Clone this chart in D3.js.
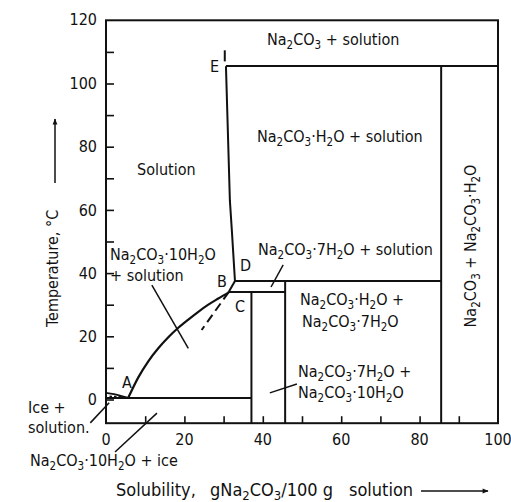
<!DOCTYPE html>
<html><head><meta charset="utf-8">
<script src="https://cdn.jsdelivr.net/npm/d3@7"></script>
<style>
body{margin:0;background:#fff;}
text{font-family:"DejaVu Sans Condensed","DejaVu Sans",sans-serif;font-stretch:condensed;fill:#111;}
</style></head><body>
<svg id="c" width="511" height="502"></svg>
<script>
// ---- data (composition wt% Na2CO3, temperature °C) ----
const xTickValues = [0,10,20,30,40,50,60,70,80,90,100];
const xTickLabels = [0,20,40,60,80,100];
const yTickValues = [0,10,20,30,40,50,60,70,80,90,100,110];
const yTickLabels = [0,20,40,60,80,100,120];
const iceCurve = [[0,2.1],[2,1.7],[4,1.1],[5.7,0.5]];
const iceDash = [[0.9,1.0],[4.6,0.8]];
const decaCurve = [[5.7,0.6],[8.24,7.0],[10.79,12.1],[13.34,16.2],[15.89,19.7],[18.44,22.7],[21.0,25.3],[23.55,27.75],[26.1,30.0],[28.65,31.95],[31.3,33.9]];
const heptaMetastable = [[31.3,34],[24.4,22]];
const lineBD = [[31.3,34],[32.9,37.5]];
const lineDE = [[32.9,37.5],[32.1,53.6],[31.6,63],[30.6,105.5]];
const lineE = [[30.6,105.5],[100,105.5]];
const boilTick = [[30.3,107],[30.3,110.5]];
const monoVert = [[85.5,105.5],[85.5,-7.5]];
const lineD = [[32.9,37.5],[85.5,37.5]];
const lineBC = [[31.3,34],[45.7,34]];
const heptaVert = [[45.7,37.5],[45.7,-7.5]];
const decaVert = [[37.1,34],[37.1,-7.5]];
const eutectic = [[0,0.5],[37.1,0.5]];
const leaders = [
  [[11.7,36.2],[21.0,16.2]],
  [[45.2,42.6],[42.1,35.6]],
  [[41.8,2.1],[48.7,4.9]],
  [[-4,-7.4],[0.8,-1]],
  [[2.3,-16.6],[13.0,-4.3]]
];
const phaseLabels = [
  {t:"Na_2CO_3 + solution", x:267, y:45},
  {t:"Na_2CO_3·H_2O + solution", x:257, y:142},
  {t:"Solution", x:137, y:175},
  {t:"Na_2CO_3·10H_2O", x:110, y:260},
  {t:"+ solution", x:110, y:281},
  {t:"Na_2CO_3·7H_2O + solution", x:258, y:255},
  {t:"Na_2CO_3·H_2O +", x:300, y:305},
  {t:"Na_2CO_3·7H_2O", x:302, y:327},
  {t:"Na_2CO_3·7H_2O +", x:298, y:377},
  {t:"Na_2CO_3·10H_2O", x:298, y:398},
  {t:"Ice +", x:28, y:413},
  {t:"solution.", x:28, y:433},
  {t:"Na_2CO_3·10H_2O + ice", x:30, y:466},
  {t:"E", x:210, y:72},
  {t:"D", x:240, y:271},
  {t:"B", x:217, y:287},
  {t:"C", x:235, y:312},
  {t:"A", x:122, y:388}
];
const xTitleParts = [
  {t:"Solubility,", x:116},
  {t:"gNa_2CO_3/100 g", x:210},
  {t:"solution", x:349}
];

// ---- chart ----
const svg = d3.select("#c");
const x = d3.scaleLinear().domain([0,100]).range([106,498]);
const y = d3.scaleLinear().domain([-7.5,120]).range([423.2,20.3]);
const line = d3.line().x(d=>x(d[0])).y(d=>y(d[1]));
const curve = d3.line().x(d=>x(d[0])).y(d=>y(d[1])).curve(d3.curveMonotoneX);

const defs = svg.append("defs");
defs.append("marker").attr("id","arr").attr("viewBox","0 0 10 10").attr("refX",9).attr("refY",5)
  .attr("markerWidth",11).attr("markerHeight",6).attr("orient","auto").attr("markerUnits","userSpaceOnUse")
  .append("path").attr("d","M0,1 L10,5 L0,9 Z").attr("fill","#111");

function subText(sel, str, size){
  const parts = str.split(/(_\d)/).filter(p=>p);
  let shifted = false;
  parts.forEach(p=>{
    if(p[0]==="_"){
      sel.append("tspan").attr("font-size",size*0.72).attr("dy",shifted?0:4).text(p[1]);
      shifted = true;
    } else {
      const ts = sel.append("tspan").text(p);
      if(shifted){ ts.attr("dy",-4); shifted=false; }
    }
  });
}

// frame
svg.append("rect").attr("x",x(0)).attr("y",y(120)).attr("width",x(100)-x(0)).attr("height",y(-7.5)-y(120))
  .attr("fill","none").attr("stroke","#111").attr("stroke-width",2);

// axes
const yAxis = d3.axisLeft(y).tickValues(yTickValues).tickSize(-8).tickPadding(9)
  .tickFormat(d=> yTickLabels.includes(d)?d:"");
const gy = svg.append("g").attr("transform",`translate(${x(0)},0)`).call(yAxis);
gy.select(".domain").remove();
gy.selectAll("line").attr("stroke","#111").attr("stroke-width",1.6);
gy.selectAll("text").attr("font-size",16).attr("font-family",null);
gy.append("text").attr("x",-9).attr("y",y(120)).attr("dy","0.32em").attr("text-anchor","end")
  .attr("font-size",16).attr("fill","#111").text(yTickLabels[yTickLabels.length-1]);

const xAxis = d3.axisBottom(x).tickValues(xTickValues.slice(1,-1)).tickSize(-7).tickFormat("");
const gx = svg.append("g").attr("transform",`translate(0,${y(-7.5)})`).call(xAxis);
gx.select(".domain").remove();
gx.selectAll("line").attr("stroke","#111").attr("stroke-width",1.6);
svg.append("g").selectAll("text").data(xTickLabels).join("text")
  .attr("x",d=>x(d)).attr("y",445).attr("text-anchor","middle").attr("font-size",16).text(d=>d);

// phase lines
const solid = [lineDE,lineE,monoVert,lineD,lineBC,lineBD,heptaVert,decaVert,eutectic,boilTick];
svg.append("g").selectAll("path").data(solid).join("path").attr("d",line)
  .attr("fill","none").attr("stroke","#111").attr("stroke-width",2);
svg.append("path").attr("d",curve(decaCurve)).attr("fill","none").attr("stroke","#111").attr("stroke-width",2.2);
svg.append("path").attr("d",curve(iceCurve)).attr("fill","none").attr("stroke","#111").attr("stroke-width",1.8);
svg.append("path").attr("d",line(iceDash)).attr("fill","none").attr("stroke","#111").attr("stroke-width",1.5).attr("stroke-dasharray","2.5,2");
svg.append("path").attr("d",line(heptaMetastable)).attr("fill","none").attr("stroke","#111").attr("stroke-width",2).attr("stroke-dasharray","9,5");
svg.append("g").selectAll("path").data(leaders).join("path").attr("d",line)
  .attr("fill","none").attr("stroke","#111").attr("stroke-width",1.5);

// labels
phaseLabels.forEach(l=>{
  const t = svg.append("text").attr("x",l.x).attr("y",l.y).attr("font-size",16);
  subText(t,l.t,16);
});
const rt = svg.append("text").attr("transform","translate(476,246) rotate(-90)").attr("text-anchor","middle").attr("font-size",16);
subText(rt,"Na_2CO_3 + Na_2CO_3·H_2O",16);

// axis titles
xTitleParts.forEach(p=>{
  const t = svg.append("text").attr("x",p.x).attr("y",496).attr("font-size",18);
  subText(t,p.t,18);
});
svg.append("line").attr("x1",421).attr("y1",491).attr("x2",488).attr("y2",491)
  .attr("stroke","#111").attr("stroke-width",1.5).attr("marker-end","url(#arr)");
svg.append("text").attr("transform","translate(58,327) rotate(-90)").attr("font-size",16).text("Temperature,  °C");
svg.append("line").attr("x1",55).attr("y1",183).attr("x2",55).attr("y2",119)
  .attr("stroke","#111").attr("stroke-width",1.5).attr("marker-end","url(#arr)");
</script></body></html>
